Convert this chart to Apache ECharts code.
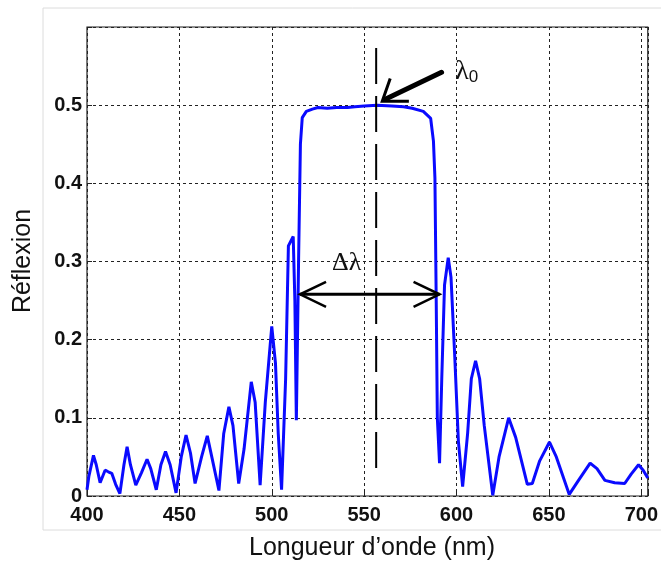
<!DOCTYPE html>
<html><head><meta charset="utf-8">
<script src="https://cdn.jsdelivr.net/npm/echarts@6/dist/echarts.min.js"></script>
<style>html,body{margin:0;padding:0;background:#fff}#c{width:661px;height:562px}</style>
</head><body><div id="c"></div>
<script>
// Wavelength (nm)
const wavelength = [400,401,403.5,405,407.1,409.8,411.5,413.4,415.5,417.8,420,421.7,423.5,426.4,429.5,432.5,434.5,437.5,440,442.5,445,448.2,451,453.6,456,458.5,462,465.1,468,471.4,474,476.8,479,482.1,485,488.9,491,493.7,496.5,500,502,503.5,505.3,507.5,509,511.6,512.5,513.3,514.5,515.5,516.5,518.7,522,525,530,535,541,545,550,557,565,571.3,576,582,586,587.5,588.3,589,589.6,590.8,592,593.5,595.5,597,599,601,603.3,606,608,610.3,612.5,615,619.6,623,628.2,632,638.3,641,645,650.3,654,661,666,672.3,676,680.3,685.6,691,694.5,698.5,701,703.5];
// Reflexion
const reflexion = [0.008,0.025,0.052,0.04,0.017,0.033,0.031,0.029,0.015,0.003,0.04,0.063,0.04,0.014,0.03,0.047,0.035,0.008,0.04,0.057,0.04,0.004,0.05,0.078,0.055,0.016,0.05,0.077,0.045,0.007,0.08,0.114,0.09,0.016,0.06,0.146,0.12,0.014,0.12,0.217,0.17,0.08,0.008,0.15,0.32,0.332,0.25,0.097,0.3,0.45,0.484,0.492,0.495,0.497,0.496,0.497,0.497,0.498,0.499,0.5,0.499,0.498,0.496,0.492,0.483,0.454,0.407,0.25,0.1,0.042,0.15,0.27,0.305,0.28,0.18,0.07,0.012,0.08,0.15,0.173,0.15,0.09,0.001,0.05,0.1,0.075,0.015,0.016,0.045,0.069,0.05,0.002,0.02,0.042,0.035,0.02,0.017,0.016,0.028,0.04,0.033,0.023];
const xTicks = [400,450,500,550,600,650,700];
const yTicks = [0,0.1,0.2,0.3,0.4,0.5];
const xRange = [400, 703.5];
const yRange = [0, 0.6];
// annotations (data coordinates)
const lambda0 = 556.5;
const lambda0Span = [0.024, 0.573];
const lambdaArrowTip = [559.8, 0.505];
const lambdaArrowTail = [591.9, 0.542];
const lambdaArrowWings = [[564.1, 0.534], [574.2, 0.505]];
const lambdaLabelPos = [605.5, 0.543];
const deltaArrow = [[515.3, 0.258], [590.8, 0.258]];
const deltaLabelPos = [540.5, 0.298];

const chart = echarts.init(document.getElementById('c'), null, {renderer: 'canvas'});
const tickFont = {fontFamily: '"Liberation Sans Narrow", "Liberation Sans", Arial, sans-serif', fontWeight: 'bold', fontSize: 20, color: '#111'};
chart.setOption({
  animation: false,
  backgroundColor: '#fff',
  grid: {left: 87, right: 8, top: 27, bottom: 66, show: true, borderColor: '#222', borderWidth: 1.2, backgroundColor: 'transparent'},
  xAxis: {
    type: 'value', min: xRange[0], max: xRange[1], interval: 50,
    axisLine: {show: false},
    axisTick: {show: true, inside: true, length: 5, lineStyle: {color: '#222'}},
    axisLabel: Object.assign({margin: 9, formatter: v => xTicks.includes(v) ? String(v) : ''}, tickFont),
    splitLine: {show: true, lineStyle: {color: '#222', type: [3, 3], width: 1}}
  },
  yAxis: {
    type: 'value', min: yRange[0], max: yRange[1], interval: 0.1,
    axisLine: {show: false},
    axisTick: {show: true, inside: true, length: 5, lineStyle: {color: '#222'}},
    axisLabel: Object.assign({margin: 5, formatter: v => {
      const t = yTicks.find(k => Math.abs(k - v) < 1e-6);
      if (t === undefined) return '';
      return t === 0 ? '0' : t.toFixed(1);
    }}, tickFont),
    splitLine: {show: true, lineStyle: {color: '#222', type: [3, 3], width: 1}}
  },
  series: [{
    type: 'line',
    data: wavelength.map((w, i) => [w, reflexion[i]]),
    showSymbol: false,
    smooth: false,
    lineStyle: {color: '#0a0aff', width: 3},
    z: 5
  }]
});

const P = p => chart.convertToPixel({gridIndex: 0}, p);
const top0 = P([lambda0, lambda0Span[1]]), bot0 = P([lambda0, lambda0Span[0]]);
const tip = P(lambdaArrowTip), tail = P(lambdaArrowTail);
const w1 = P(lambdaArrowWings[0]), w2 = P(lambdaArrowWings[1]);
const lp = P(lambdaLabelPos);
const dl = P(deltaArrow[0]), dr = P(deltaArrow[1]);
const dlp = P(deltaLabelPos);
const wx = 26, wy = 12.5;

chart.setOption({
  graphic: [
    {type: 'rect', z: -1, shape: {x: 43, y: 8, width: 700, height: 522}, style: {fill: 'none', stroke: '#dcdcdc', lineWidth: 1}},
    {type: 'text', x: 23, y: 261, rotation: Math.PI / 2, style: {text: 'Réflexion', font: '25px "Liberation Sans", Arial, sans-serif', fill: '#111', textAlign: 'center', textVerticalAlign: 'middle'}},
    {type: 'text', x: 372, y: 548, style: {text: 'Longueur d\u2019onde (nm)', font: '25px "Liberation Sans", Arial, sans-serif', fill: '#111', textAlign: 'center', textVerticalAlign: 'middle'}},
    {type: 'line', z: 10, shape: {x1: top0[0], y1: top0[1], x2: bot0[0], y2: bot0[1]}, style: {stroke: '#000', lineWidth: 2, lineDash: [36, 12]}},
    {type: 'line', z: 10, shape: {x1: tail[0], y1: tail[1], x2: tip[0] + 3, y2: tip[1] - 2}, style: {stroke: '#000', lineWidth: 5, lineCap: 'round'}},
    {type: 'polyline', z: 10, shape: {points: [w1, tip, w2]}, style: {stroke: '#000', lineWidth: 3, fill: 'none'}},
    {type: 'text', z: 10, x: lp[0], y: lp[1], style: {rich: {a: {font: '28px "Liberation Serif", serif', fill: '#111'}, b: {font: '17px "Liberation Sans", sans-serif', fill: '#111', verticalAlign: 'bottom'}}, text: '{a|\u03bb}{b|0}', textAlign: 'center', textVerticalAlign: 'middle'}},
    {type: 'line', z: 10, shape: {x1: dl[0], y1: dl[1], x2: dr[0], y2: dr[1]}, style: {stroke: '#000', lineWidth: 3}},
    {type: 'polyline', z: 10, shape: {points: [[dl[0] + wx, dl[1] - wy], dl, [dl[0] + wx, dl[1] + wy]]}, style: {stroke: '#000', lineWidth: 2.5, fill: 'none'}},
    {type: 'polyline', z: 10, shape: {points: [[dr[0] - wx, dr[1] - wy], dr, [dr[0] - wx, dr[1] + wy]]}, style: {stroke: '#000', lineWidth: 2.5, fill: 'none'}},
    {type: 'text', z: 10, x: dlp[0], y: dlp[1], style: {text: '\u0394\u03bb', font: '26px "Liberation Serif", serif', fill: '#111', textAlign: 'center', textVerticalAlign: 'middle'}}
  ]
});
</script>
</body></html>
